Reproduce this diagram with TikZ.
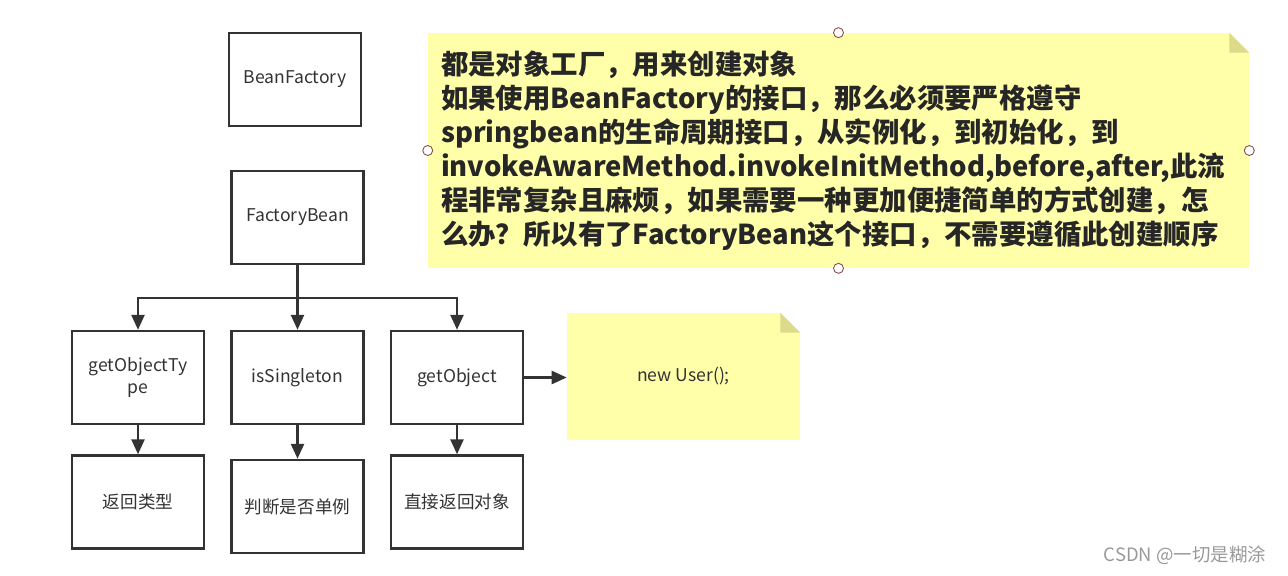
\documentclass[tikz,border=0pt]{standalone}
\usepackage{fontspec}
\setmainfont{Noto Sans CJK SC}
\definecolor{noteyellow}{HTML}{FFFFAA}
\definecolor{foldyellow}{HTML}{DEDA8C}
\definecolor{linegray}{HTML}{333333}
\definecolor{handlered}{HTML}{8A4A4A}
\usetikzlibrary{arrows.meta, positioning, calc}
\newcommand{\branch}[3]
{
	\draw[flowline] (#3.south) -- +(0,#1) -| ($ (#2.north) $)
}
\newcommand{\fold}[1]
{
	\fill[white] (#1.north east) -- ++(-20,0) -- ++(20,20) -- cycle;
	\fill[foldyellow] (#1.north east) ++(-20,0) -- ++(0,20) -- ++(20,0) -- cycle
}

\begin{document}
\begin{tikzpicture}[x=0.02cm, y=-0.02cm,
every node/.append style={shape=rectangle, text=linegray},
box/.style={draw=linegray, line width=1.4pt, minimum width=2.64cm, minimum height=1.86cm,
  align=center, font=\fontsize{10}{12}\selectfont},
note/.style={fill=noteyellow, inner sep=0pt},
flowline/.style={draw=linegray, line width=1.4pt, -{Triangle[length=0.3cm, width=0.26cm]}},
handle/.style={draw=handlered, fill=white, line width=0.5pt}]

\useasboundingbox (0,0) rectangle (1288,575);

% method boxes
\node[box] at (295, 79.5)  (BF){BeanFactory};
\node[box] at (297.5, 217.5) (FB){FactoryBean};

\node[box] at (138, 377.5)   (OT){getObjectTy\\pe};
\node[box] at (297.5, 377.5) (IS){isSingleton};
\node[box] at (457, 377.5)   (GO){getObject};

\node[box] at (138, 502)     (RT){返回类型};
\node[box] at (297.5, 506.5) (SG){判断是否单例};
\node[box] at (457, 502)     (RO){直接返回对象};

% notes
\node[note, minimum width=4.66cm, minimum height=2.54cm,
  font=\fontsize{10}{12}\selectfont] at (683.5, 376.5) (NU){new User();};
\fold{NU};

\node[note, minimum width=16.42cm, minimum height=4.7cm, text width=15.9cm,
  inner xsep=0.26cm, align=left, font=\fontsize{15.6}{19.35}\selectfont\bfseries,
  text=black!85] at (838.5, 150.5) (DESC){\rule{0pt}{0.08cm}都是对象工厂，用来创建对象\\
如果使用BeanFactory的接口，那么必须要严格遵守\\
springbean的生命周期接口，从实例化，到初始化，到\\
invokeAwareMethod.invokeInitMethod,before,after,此流\\
程非常复杂且麻烦，如果需要一种更加便捷简单的方式创建，怎\\
么办？所以有了FactoryBean这个接口，不需要遵循此创建顺序};
\fold{DESC};

% selection handles
\foreach \h in {north, south, west, east}
	\draw[handle] (DESC.\h) circle (5);

% connectors
\branch{33}{OT}{FB};
\branch{33}{IS}{FB};
\branch{33}{GO}{FB};
\draw[flowline] (OT) -- (RT);
\draw[flowline] (IS) -- (SG);
\draw[flowline] (GO) -- (RO);
\draw[flowline] (GO.east) -- (GO.east -| NU.west);

\node[text=black!40, font=\fontsize{10.5}{12}\selectfont] at (1185, 555) (WM){CSDN @一切是糊涂};
\end{tikzpicture}
\end{document}
